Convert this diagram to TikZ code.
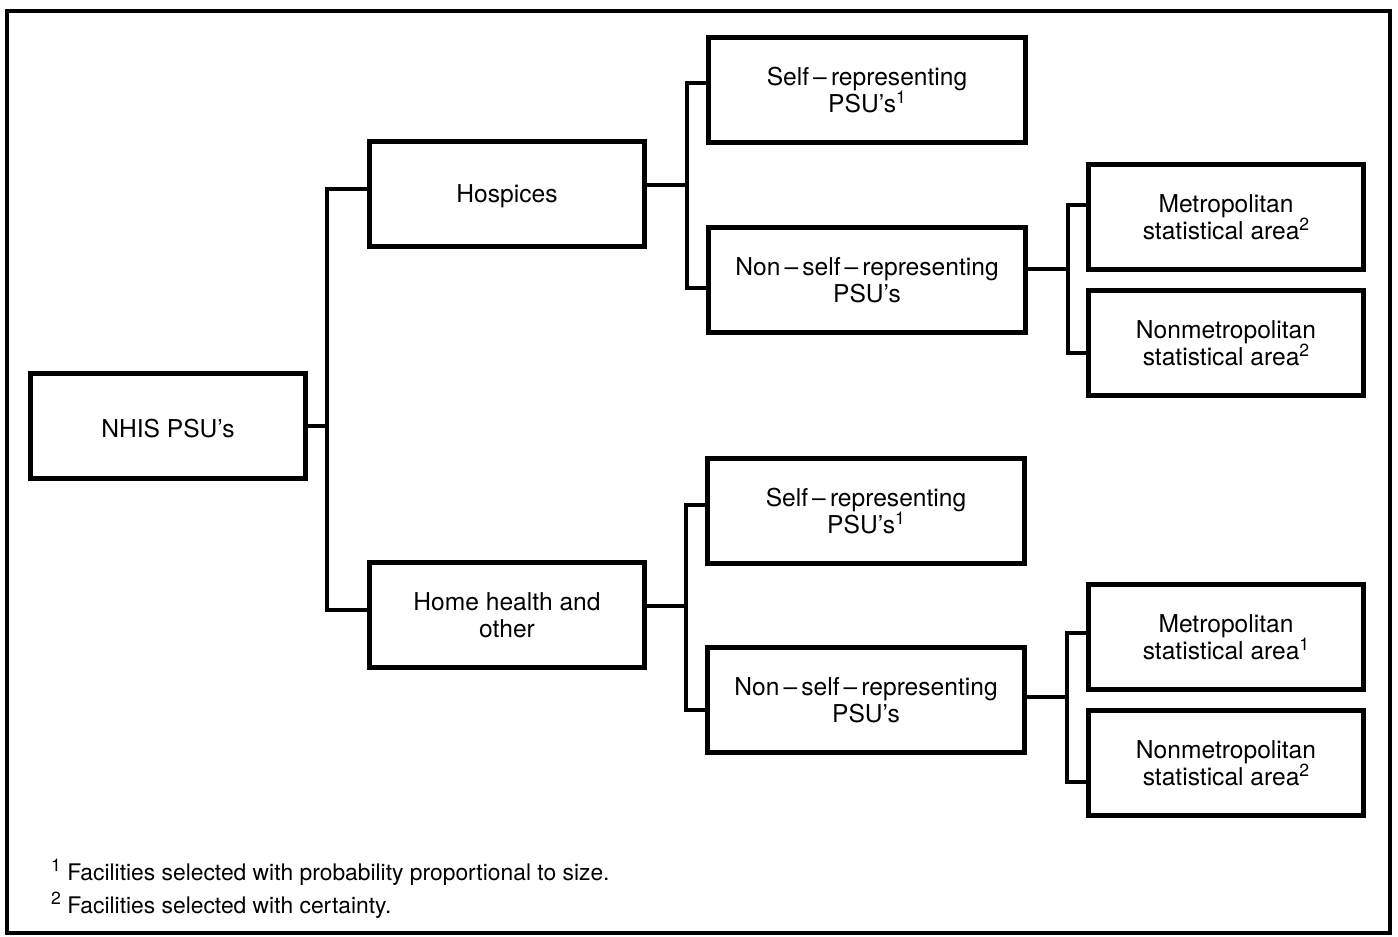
\documentclass[tikz,border=0pt]{standalone}
\usepackage{fontspec}
\setmainfont{TeX Gyre Heros}
\newcommand\upnum[1]{\smash{\raisebox{0.36em}{\fontsize{10}{10}\selectfont #1}}}
\begin{document}
\begin{tikzpicture}[x=0.02cm,y=-0.02cm]
\tikzset{box/.style={draw, line width=2.6pt, minimum height=2.1cm, align=center,
    font=\fontsize{14}{15.5}\selectfont, inner sep=0pt,
    execute at begin node=\rule{0pt}{13pt}}}
\tikzset{conn/.style={line width=2.3pt}}
\useasboundingbox (0,0) rectangle (1398,936);
\draw[line width=2.6pt] (7,11) rectangle (1390,933);
% boxes
\node[box, minimum width=5.5cm] (nhis) at (168,426) {NHIS PSU's};
\node[box, minimum width=5.5cm] (hosp) at (507,194) {Hospices};
\node[box, minimum width=5.5cm] (home) at (507,615) {Home health and\\other};
\node[box, minimum width=6.35cm] (self1) at (867,90) {Self\,--\,representing\\PSU's\upnum{1}};
\node[box, minimum width=6.35cm] (nself1) at (867,280) {Non\,--\,self\,--\,representing\\PSU's};
\node[box, minimum width=5.5cm] (met1) at (1226,217) {Metropolitan\\statistical area\upnum{2}};
\node[box, minimum width=5.5cm] (nmet1) at (1226,343) {Nonmetropolitan\\statistical area\upnum{2}};
\node[box, minimum width=6.35cm] (self2) at (866,511) {Self\,--\,representing\\PSU's\upnum{1}};
\node[box, minimum width=6.35cm] (nself2) at (866,700) {Non\,--\,self\,--\,representing\\PSU's};
\node[box, minimum width=5.5cm] (met2) at (1226,637) {Metropolitan\\statistical area\upnum{1}};
\node[box, minimum width=5.5cm] (nmet2) at (1226,763) {Nonmetropolitan\\statistical area\upnum{2}};
% junctions
\coordinate (a1) at (327,189);
\coordinate (a2) at (327,610);
\coordinate (b1) at (687,83);
\coordinate (b2) at (687,288);
\coordinate (bm) at (687,185);
\coordinate (c1) at (1068,205);
\coordinate (c2) at (1068,353);
\coordinate (cm) at (1068,269);
\coordinate (d1) at (686,505);
\coordinate (d2) at (686,710);
\coordinate (dm) at (686,606);
\coordinate (e1) at (1067,633);
\coordinate (e2) at (1067,782);
\coordinate (em) at (1067,697);
% connectors
\draw[conn] (nhis.east) -- (nhis.east -| a1);
\draw[conn] (a1 -| hosp.west) -- (a1) -- (a2) -- (a2 -| home.west);
\draw[conn] (hosp.east |- bm) -- (bm);
\draw[conn] (b1 -| self1.west) -- (b1) -- (b2) -- (b2 -| nself1.west);
\draw[conn] (nself1.east |- cm) -- (cm);
\draw[conn] (c1 -| met1.west) -- (c1) -- (c2) -- (c2 -| nmet1.west);
\draw[conn] (home.east |- dm) -- (dm);
\draw[conn] (d1 -| self2.west) -- (d1) -- (d2) -- (d2 -| nself2.west);
\draw[conn] (nself2.east |- em) -- (em);
\draw[conn] (e1 -| met2.west) -- (e1) -- (e2) -- (e2 -| nmet2.west);
% notes
\node[anchor=base west, font=\fontsize{13}{14}\selectfont] (note1) at (45,880)
  {\upnum{1} Facilities selected with probability proportional to size.};
\node[anchor=base west, font=\fontsize{13}{14}\selectfont] (note2) at (45,913)
  {\upnum{2} Facilities selected with certainty.};
\end{tikzpicture}
\end{document}
